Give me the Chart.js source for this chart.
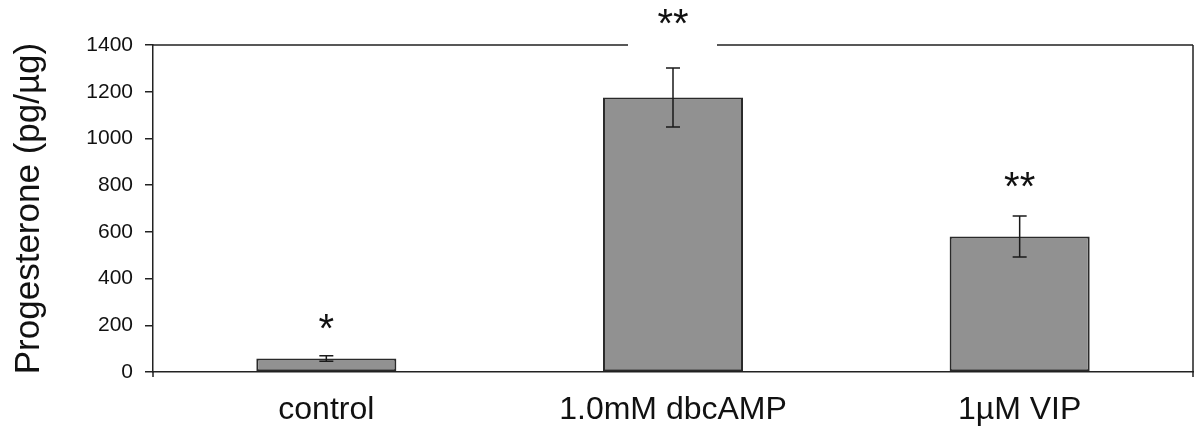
<!DOCTYPE html>
<html>
<head>
<meta charset="utf-8">
<script src="https://cdn.jsdelivr.net/npm/chart.js@4.4.1/dist/chart.umd.min.js"></script>
<style>
  html, body { margin: 0; padding: 0; background: #ffffff; }
  #wrap { width: 1199px; height: 429px; position: relative; }
</style>
</head>
<body>
<div id="wrap"><canvas id="c" width="1199" height="429"></canvas></div>
<script>
const categories = ["control", "1.0mM dbcAMP", "1\u00B5M VIP"];
const meanValues = [58, 1175, 580];
const errorValues = [12, 126, 88];
const significance = ["*", "**", "**"];
const yTicks = [0, 200, 400, 600, 800, 1000, 1200, 1400];

const FONT = "'Liberation Sans', Arial, Helvetica, sans-serif";

const annotationPlugin = {
  id: 'annot',
  afterDatasetsDraw(chart, args, opts) {
    const ctx = chart.ctx;
    const meta = chart.getDatasetMeta(0);
    const y = chart.scales.y;
    ctx.save();
    ctx.strokeStyle = '#1a1a1a';
    ctx.lineWidth = 1.5;
    meta.data.forEach((bar, i) => {
      const x = bar.x;
      const top = y.getPixelForValue(meanValues[i] + errorValues[i]);
      const bot = y.getPixelForValue(meanValues[i] - errorValues[i]);
      ctx.beginPath();
      ctx.moveTo(x, top); ctx.lineTo(x, bot);
      ctx.moveTo(x - opts.capHalf, top); ctx.lineTo(x + opts.capHalf, top);
      ctx.moveTo(x - opts.capHalf, bot); ctx.lineTo(x + opts.capHalf, bot);
      ctx.stroke();
      ctx.fillStyle = '#111';
      ctx.font = opts.starFont;
      ctx.textAlign = 'center';
      ctx.textBaseline = 'middle';
      ctx.fillText(significance[i], x, top - opts.starOffsets[i] + opts.starBaselineShift);
    });
    ctx.restore();
  },
  afterDraw(chart, args, opts) {
    const ctx = chart.ctx;
    const a = chart.chartArea;
    const meta = chart.getDatasetMeta(0);
    const gx = meta.data[opts.gapIndex].x;
    ctx.save();
    ctx.strokeStyle = '#222';
    ctx.lineWidth = 1.5;
    ctx.beginPath();
    ctx.moveTo(a.left, a.top); ctx.lineTo(gx - opts.gapLeft, a.top);
    ctx.moveTo(gx + opts.gapRight, a.top); ctx.lineTo(a.right, a.top);
    ctx.moveTo(a.right, a.top); ctx.lineTo(a.right, a.bottom + 5);
    ctx.moveTo(a.left, a.bottom); ctx.lineTo(a.left, a.bottom + 5);
    ctx.stroke();
    ctx.restore();
  }
};

new Chart(document.getElementById('c'), {
  type: 'bar',
  data: {
    labels: categories,
    datasets: [{
      data: meanValues,
      backgroundColor: '#919191',
      borderColor: '#2a2a2a',
      borderWidth: 2,
      borderSkipped: false,
      barPercentage: 0.404,
      categoryPercentage: 1.0
    }]
  },
  options: {
    responsive: false,
    animation: false,
    events: [],
    layout: { padding: { top: 45, right: 6, left: 0, bottom: 0 } },
    plugins: {
      legend: { display: false },
      tooltip: { enabled: false },
      annot: {
        capHalf: 7,
        starFont: "40px " + FONT,
        starOffsets: [33, 50, 35],
        starBaselineShift: 8,
        gapIndex: 1,
        gapLeft: 45,
        gapRight: 44
      }
    },
    scales: {
      x: {
        grid: { display: true, drawOnChartArea: false, drawTicks: false },
        border: { display: true, color: '#222', width: 1.5 },
        ticks: { color: '#111', font: { family: FONT, size: 32 }, padding: 19 },
        afterFit(scale) { scale.height = 57; }
      },
      y: {
        min: 0,
        max: 1400,
        afterBuildTicks(scale) { scale.ticks = yTicks.map(v => ({ value: v })); },
        ticks: {
          color: '#111',
          font: { family: FONT, size: 21 },
          padding: 12,
          callback: (v) => String(v)
        },
        grid: { display: true, drawOnChartArea: false, drawTicks: true, tickLength: 8, color: '#222', lineWidth: 1.5 },
        border: { display: true, color: '#222', width: 1.5 },
        title: {
          display: true,
          text: 'Progesterone (pg/\u00B5g)',
          color: '#111',
          font: { family: FONT, size: 35 },
          padding: { top: 8, bottom: 0 }
        },
        afterFit(scale) { scale.width = 153; }
      }
    }
  },
  plugins: [annotationPlugin]
});
</script>
</body>
</html>
